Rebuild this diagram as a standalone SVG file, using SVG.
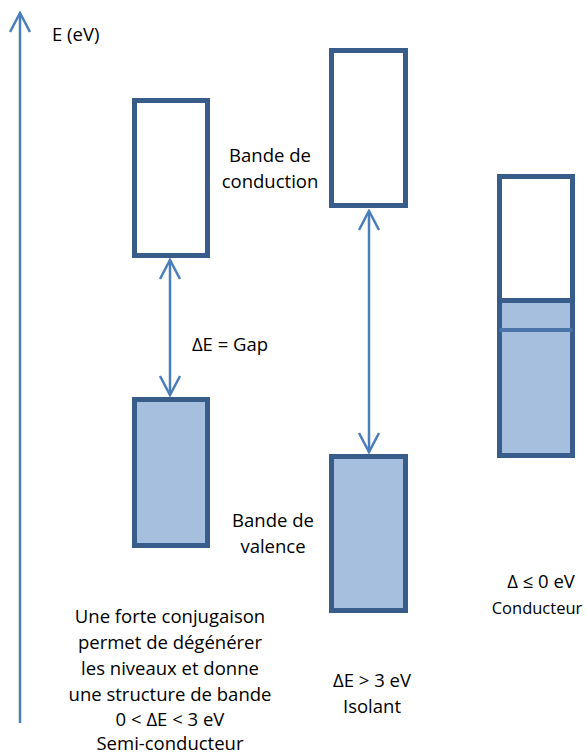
<svg xmlns="http://www.w3.org/2000/svg" width="587" height="754" viewBox="0 0 587 754">
<style>
.band{stroke:#385D8A;stroke-width:5}
.empty{fill:#FFFFFF}
.full{fill:#A7BFDE}
.lbl{font-family:"Open Sans","Liberation Sans",sans-serif;font-size:18.5px;fill:#000000;text-anchor:middle}
.conn{stroke:#4A7EBB;stroke-width:2.5;fill:none}
</style>
<defs>
<marker id="open" viewBox="0 0 22 22" refX="20" refY="11" markerWidth="22" markerHeight="22" markerUnits="userSpaceOnUse" orient="auto-start-reverse">
<path d="M1,1 L20,11 L1,21" fill="none" stroke="#4A7EBB" stroke-width="2.5"/>
</marker>
</defs>
<g id="connectors">
<line class="conn" x1="20" y1="723" x2="20" y2="13" marker-end="url(#open)"/>
<line class="conn" x1="170" y1="260" x2="170" y2="395" marker-start="url(#open)" marker-end="url(#open)"/>
<line class="conn" x1="369" y1="211" x2="369" y2="452" marker-start="url(#open)" marker-end="url(#open)"/>
</g>
<g id="axis-label"><text class="lbl" x="52" y="41" style="text-anchor:start">E (eV)</text></g>
<g id="semi-conduction"><rect class="band empty" x="134.5" y="100.5" width="73" height="155"/></g>
<g id="semi-valence"><rect class="band full" x="134.5" y="399.5" width="73" height="146"/></g>
<g id="iso-conduction"><rect class="band empty" x="331.5" y="50.5" width="74" height="155"/></g>
<g id="iso-valence"><rect class="band full" x="331.5" y="456.5" width="74" height="154"/></g>
<g id="conductor">
<rect class="band empty" x="499.5" y="176.5" width="73" height="154"/>
<rect class="band full" x="499.5" y="300.5" width="73" height="155"/>
<line x1="499.5" y1="330" x2="572.5" y2="330" stroke="#4A74AA" stroke-width="4"/>
</g>
<g id="labels">
<text class="lbl" x="270" y="162">Bande de</text>
<text class="lbl" x="270" y="188">conduction</text>
<text class="lbl" x="230" y="351">ΔE = Gap</text>
<text class="lbl" x="273" y="527">Bande de</text>
<text class="lbl" x="273" y="553">valence</text>
<text class="lbl" x="541" y="588">Δ ≤ 0 eV</text>
<text class="lbl" x="537" y="614" style="font-size:16.5px">Conducteur</text>
<text class="lbl" x="372" y="687">ΔE &gt; 3 eV</text>
<text class="lbl" x="372" y="713">Isolant</text>
<text class="lbl" x="170" y="623">Une forte conjugaison</text>
<text class="lbl" x="170" y="649">permet de dégénérer</text>
<text class="lbl" x="170" y="675">les niveaux et donne</text>
<text class="lbl" x="170" y="701">une structure de bande</text>
<text class="lbl" x="170" y="726">0 &lt; ΔE &lt; 3 eV</text>
<text class="lbl" x="170" y="750">Semi-conducteur</text>
</g>
</svg>
